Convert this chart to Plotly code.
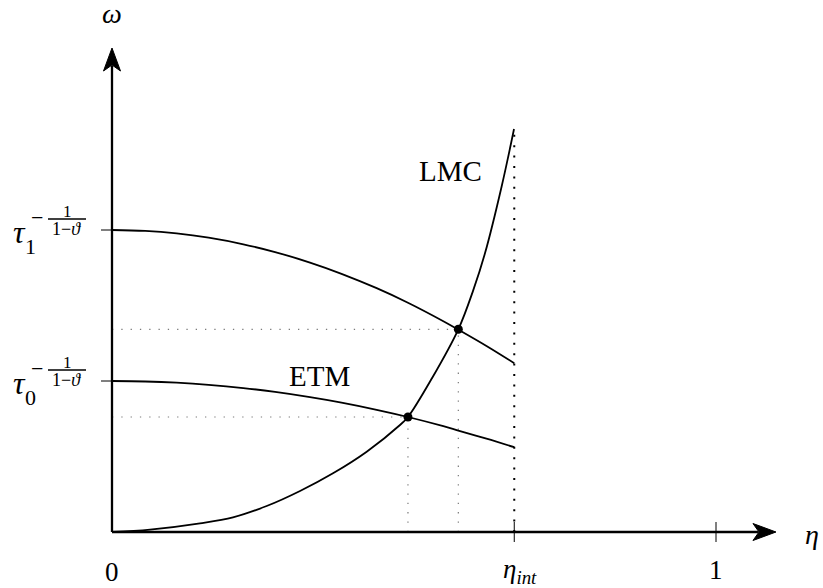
import plotly.graph_objects as go

# ---------------- data ----------------
eta_int = 0.666
tau1_level = 0.5
tau0_level = 0.25

# upper wage curve (tau1)
eta_hi = [0.0, 0.055, 0.107, 0.16, 0.2175, 0.27, 0.3278, 0.38, 0.4382, 0.49, 0.5486, 0.5734, 0.62, 0.666]
om_hi = [0.5, 0.4985, 0.4943, 0.4872, 0.4763, 0.4635, 0.4461, 0.4275, 0.4037, 0.3796, 0.3490, 0.3350, 0.3080, 0.2795]

# lower curve (ETM, tau0)
eta_lo = [0.0, 0.055, 0.107, 0.16, 0.2175, 0.27, 0.3278, 0.38, 0.4382, 0.49, 0.5486, 0.5734, 0.62, 0.666]
om_lo = [0.25, 0.2492, 0.2472, 0.2437, 0.2383, 0.2319, 0.2233, 0.2142, 0.2023, 0.1904, 0.1752, 0.1680, 0.1545, 0.1405]

# LMC curve
eta_lmc = [0.0, 0.063, 0.1457, 0.2003, 0.2561, 0.3113, 0.3659, 0.4217, 0.4768,
           0.49, 0.53, 0.5734, 0.598, 0.6175, 0.645, 0.6656]
om_lmc = [0.0, 0.004, 0.0144, 0.0243, 0.043, 0.0679, 0.0972, 0.133, 0.1772,
          0.1904, 0.255, 0.3356, 0.400, 0.4614, 0.5717, 0.6672]

# intersections
eta_pts = [0.49, 0.5734]
om_pts = [0.1904, 0.3356]

# x tick positions / labels
xtick_vals = [0.0, eta_int, 1.0]
xtick_text = ["0", "<i>η</i><sub><i>int</i></sub>", "1"]
ytick_vals = [tau1_level, tau0_level]
ytick_sub = ["1", "0"]

x_end = 1.0993   # arrow tip of eta axis
y_end = 0.8013   # arrow tip of omega axis

FONT = "Liberation Serif"
BLACK = "#000000"
GRAY = "#7a7a7a"

fig = go.Figure()

curve_line = dict(color=BLACK, width=1.8, shape="spline", smoothing=1.0)
fig.add_trace(go.Scatter(x=eta_hi, y=om_hi, mode="lines", line=curve_line, hoverinfo="skip"))
fig.add_trace(go.Scatter(x=eta_lo, y=om_lo, mode="lines", line=curve_line, hoverinfo="skip"))
fig.add_trace(go.Scatter(x=eta_lmc, y=om_lmc, mode="lines", line=curve_line, hoverinfo="skip"))

shapes = []
# guide dotted lines from intersections
for ex, oy in zip(eta_pts, om_pts):
    shapes.append(dict(type="line", x0=0, x1=ex, y0=oy, y1=oy, xref="x", yref="y",
                       line=dict(color=GRAY, width=1.2, dash="1.3px,8px"), layer="below"))
    shapes.append(dict(type="line", x0=ex, x1=ex, y0=0, y1=oy, xref="x", yref="y",
                       line=dict(color=GRAY, width=1.2, dash="1.3px,8px"), layer="below"))
# eta_int vertical dotted
shapes.append(dict(type="line", x0=eta_int, x1=eta_int, y0=0, y1=om_lmc[-1],
                   xref="x", yref="y", line=dict(color=BLACK, width=2, dash="2px,8.4px"),
                   layer="below"))

# axes
shapes.append(dict(type="line", x0=0, x1=x_end - 18 / 604, y0=0, y1=0, xref="x", yref="y",
                   line=dict(color=BLACK, width=2.3)))
shapes.append(dict(type="line", x0=0, x1=0, y0=0, y1=y_end - 18 / 604, xref="x", yref="y",
                   line=dict(color=BLACK, width=2.3)))
# arrow heads (pixel-sized, anchored at the tips)
shapes.append(dict(type="path", xref="x", yref="y", xsizemode="pixel", ysizemode="pixel",
                   xanchor=x_end, yanchor=0,
                   path="M 0 0 L -23 8.5 L -17 0 L -23 -8.5 Z",
                   fillcolor=BLACK, line=dict(color=BLACK, width=1)))
shapes.append(dict(type="path", xref="x", yref="y", xsizemode="pixel", ysizemode="pixel",
                   xanchor=0, yanchor=y_end,
                   path="M 0 0 L -8.5 -23 L 0 -17 L 8.5 -23 Z",
                   fillcolor=BLACK, line=dict(color=BLACK, width=1)))
# x ticks
for xv in xtick_vals[1:]:
    shapes.append(dict(type="line", xref="x", yref="y", ysizemode="pixel", yanchor=0,
                       x0=xv, x1=xv, y0=-10, y1=10, line=dict(color=BLACK, width=1)))
# y ticks and fraction bars
for yv in ytick_vals:
    shapes.append(dict(type="line", xref="x", yref="y", xsizemode="pixel", xanchor=0,
                       x0=-11, x1=0, y0=yv, y1=yv, line=dict(color=BLACK, width=1)))
    shapes.append(dict(type="line", xref="x", yref="y", xsizemode="pixel", ysizemode="pixel",
                       xanchor=0, yanchor=yv, x0=-64, x1=-26, y0=11, y1=11,
                       line=dict(color=BLACK, width=1.3)))

# intersection markers
fig.add_trace(go.Scatter(x=eta_pts, y=om_pts, mode="markers",
                         marker=dict(color=BLACK, size=9), hoverinfo="skip"))

ann = []
def A(text, x, y, size, xs=0, ys=0, xanchor="center"):
    ann.append(dict(text=text, x=x, y=y, xref="x", yref="y", showarrow=False,
                    xshift=xs, yshift=ys, xanchor=xanchor, yanchor="middle",
                    font=dict(family=FONT, size=size, color=BLACK)))

# x tick labels
A(xtick_text[0], xtick_vals[0], 0, 27, ys=-40)
A(xtick_text[1], xtick_vals[1], 0, 27, xs=-13, ys=-39, xanchor="left")
A(xtick_text[2], xtick_vals[2], 0, 27, ys=-38)
# y tick labels  tau_k ^ {-1/(1-theta)}
for yv, sub in zip(ytick_vals, ytick_sub):
    A("<i>τ</i>", 0, yv, 32, xs=-92.5, ys=-2)
    A(sub, 0, yv, 22, xs=-82, ys=-16)
    A("−", 0, yv, 22, xs=-75.5, ys=13)
    A("1", 0, yv, 17, xs=-45, ys=19)
    A("1−<i>ϑ</i>", 0, yv, 18, xs=-45.5, ys=1)

# axis titles
A("<i>ω</i>", 0, y_end, 28, ys=35)
A("<i>η</i>", x_end, 0, 28, xs=36, ys=-2)
# curve labels
A("LMC", 0.5596, 0.5977, 29)
A("ETM", 0.3435, 0.259, 29)

fig.update_layout(
    width=823, height=588,
    margin=dict(l=0, r=0, t=0, b=0),
    paper_bgcolor="white", plot_bgcolor="white",
    showlegend=False,
    xaxis=dict(range=[-112 / 604, 711 / 604], visible=False, fixedrange=True),
    yaxis=dict(range=[-56 / 604, 532 / 604], visible=False, fixedrange=True),
    shapes=shapes,
    annotations=ann,
)

fig.write_html("out.html", config={"displayModeBar": False},
               post_script="document.body.style.margin='0';document.body.style.overflow='hidden';")
